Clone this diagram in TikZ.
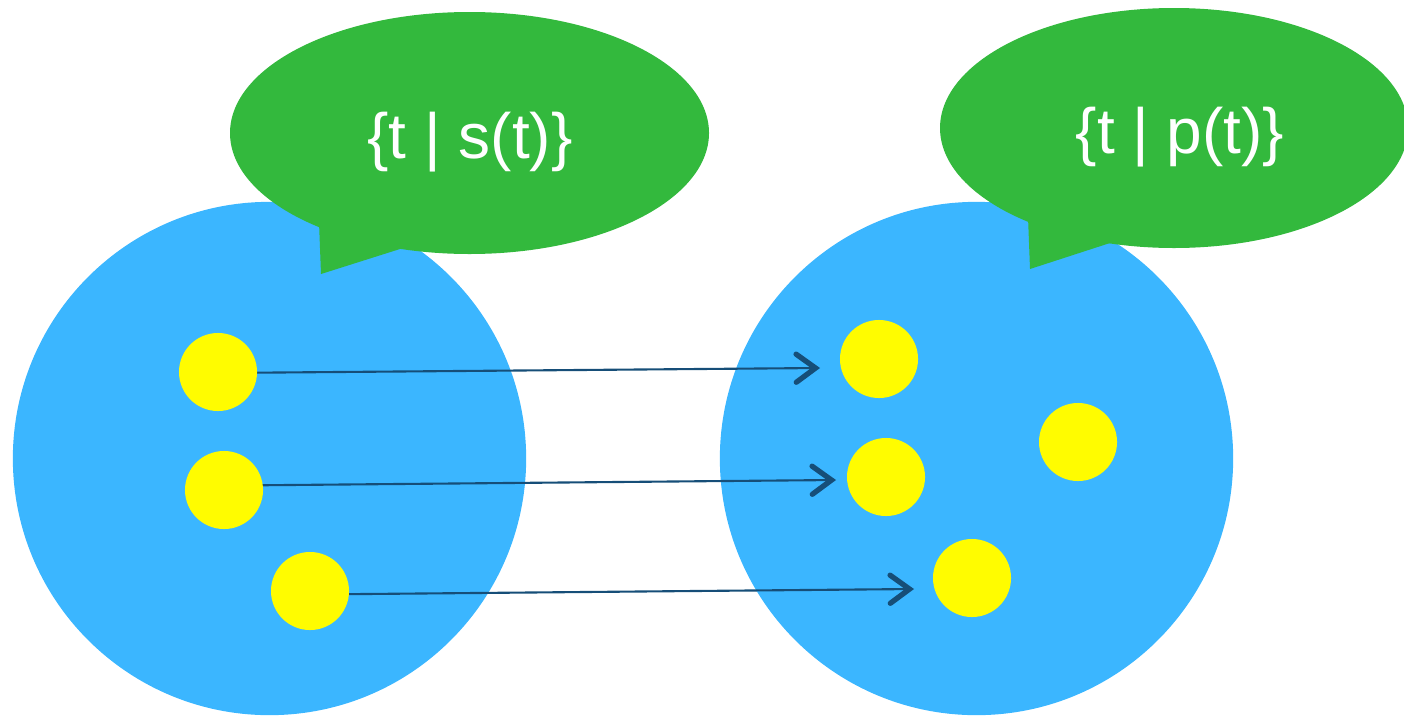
\documentclass[tikz,border=0pt]{standalone}
\usepackage{fontspec}
\setmainfont{Liberation Sans}
\usetikzlibrary{arrows.meta}
\definecolor{setblue}{RGB}{59,182,255}
\definecolor{bubblegreen}{RGB}{51,185,61}
\definecolor{dotyellow}{RGB}{255,252,0}
\definecolor{mapline}{RGB}{22,78,120}
\begin{document}
\begin{tikzpicture}[x=0.01cm,y=-0.01cm,
  setdisk/.style={circle,fill=setblue,minimum size=5.13cm,inner sep=0pt},
  element/.style={circle,fill=dotyellow,minimum size=0.78cm,inner sep=0pt},
  bubble/.style={fill=bubblegreen},
  label/.style={text=white,font=\fontsize{18.2pt}{22pt}\selectfont},
  mapsto/.style={draw=mapline,line width=0.6pt,
    -{Straight Barb[length=5.5pt,width=8pt,line width=1.5pt,line cap=round]}}]
\useasboundingbox (0,0) rectangle (1404,715);

% the two sets
\node[setdisk] (S) at (269.5,458.5) {};
\node[setdisk] (P) at (976.5,458.5) {};

% speech bubbles naming each set
\fill[bubble] (469.5,133) ellipse [x radius=239.5,y radius=121];
\fill[bubble] (319,222) -- (321,274) -- (400,249) -- (430,200) -- cycle;
\node[label] (sname) at (470,142) {\{t | s(t)\}};

\fill[bubble] (1174,128) ellipse [x radius=234,y radius=120];
\fill[bubble] (1028,217) -- (1030,269) -- (1110,243) -- (1130,200) -- cycle;
\node[label] (pname) at (1180,137) {\{t | p(t)\}};

% arrow ends
\coordinate (e1) at (820,368);
\coordinate (e2) at (836,480);
\coordinate (e3) at (914,589);
\coordinate (b1) at (218,373);
\coordinate (b2) at (234,485.5);
\coordinate (b3) at (310,594.5);

% mapping of elements
\draw[mapsto] (b1) -- (e1);
\draw[mapsto] (b2) -- (e2);
\draw[mapsto] (b3) -- (e3);

% elements of s
\node[element] (s1) at (218,372) {};
\node[element] (s2) at (224,490) {};
\node[element] (s3) at (310,591) {};

% elements of p
\node[element] (p1) at (879,359) {};
\node[element] (p2) at (886,477) {};
\node[element] (p3) at (1078,442) {};
\node[element] (p4) at (972,578) {};
\end{tikzpicture}
\end{document}
